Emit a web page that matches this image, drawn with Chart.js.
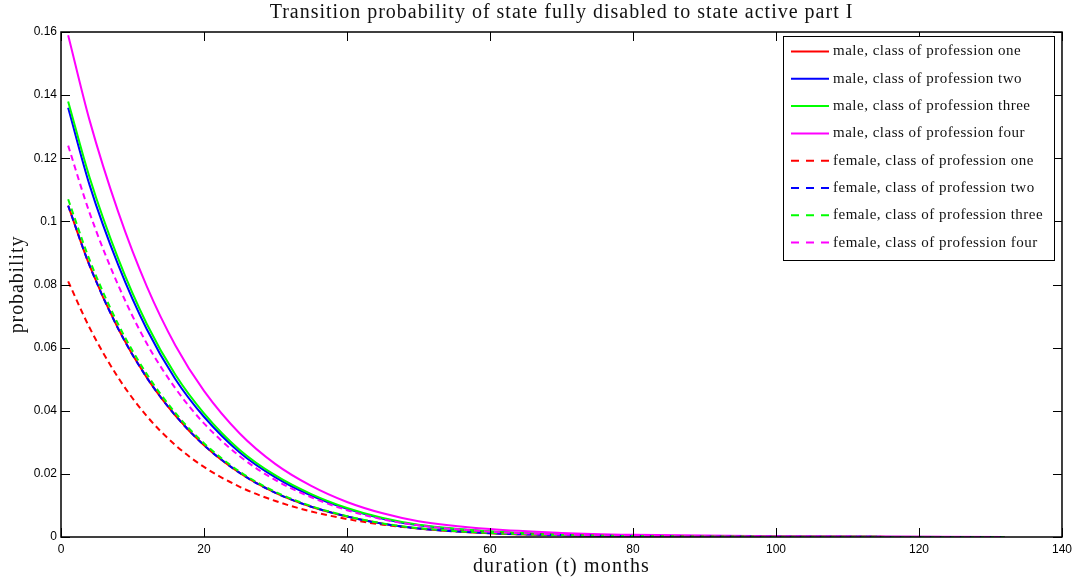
<!DOCTYPE html>
<html>
<head>
<meta charset="utf-8">
<script src="https://cdn.jsdelivr.net/npm/chart.js@4.4.0/dist/chart.umd.min.js"></script>
<style>
  html, body { margin: 0; padding: 0; background: #fff; }
  #wrap { width: 1077px; height: 583px; }
</style>
</head>
<body>
<div id="wrap"><canvas id="chartTransisi"></canvas></div>
<script>
// data (duration in months -> probability)
const durasi = [1, 4, 8, 12, 16, 20, 25, 30, 35, 40, 45, 50, 60, 70, 80, 100, 132];

const maleOne    = [0.105, 0.086, 0.066, 0.0505, 0.0385, 0.0291, 0.0203, 0.014, 0.0096, 0.0065, 0.0042, 0.0027, 0.0012, 0.0006, 0.0003, 0.0001, 0.0];
const maleTwo    = [0.136, 0.1115, 0.0862, 0.0658, 0.050, 0.0381, 0.0268, 0.0189, 0.0131, 0.0089, 0.0058, 0.0037, 0.0017, 0.0008, 0.0004, 0.0001, 0.0];
const maleThree  = [0.138, 0.1139, 0.0882, 0.0675, 0.0514, 0.0392, 0.0276, 0.0195, 0.0136, 0.0092, 0.006, 0.0039, 0.0018, 0.0008, 0.0004, 0.0001, 0.0];
const maleFour   = [0.159, 0.132, 0.103, 0.0794, 0.0607, 0.0463, 0.0328, 0.0231, 0.0162, 0.0111, 0.0075, 0.005, 0.0025, 0.0013, 0.0007, 0.0002, 0.0];
const femaleOne   = [0.081, 0.0663, 0.0505, 0.0383, 0.0291, 0.0222, 0.0159, 0.0114, 0.0081, 0.0057, 0.0039, 0.0027, 0.0013, 0.0006, 0.0003, 0.0001, 0.0];
const femaleTwo   = [0.105, 0.086, 0.066, 0.0505, 0.0385, 0.0291, 0.0203, 0.014, 0.0096, 0.0065, 0.0042, 0.0027, 0.0012, 0.0006, 0.0003, 0.0001, 0.0];
const femaleThree = [0.107, 0.0878, 0.0674, 0.0516, 0.0393, 0.0297, 0.0207, 0.0143, 0.0098, 0.0066, 0.0043, 0.0028, 0.0013, 0.0006, 0.0003, 0.0001, 0.0];
const femaleFour  = [0.124, 0.1027, 0.0798, 0.0613, 0.0471, 0.036, 0.0256, 0.018, 0.0126, 0.0085, 0.0056, 0.0037, 0.0017, 0.0008, 0.0004, 0.0001, 0.0];

const labelSeri = [
  'male, class of profession one', 'male, class of profession two',
  'male, class of profession three', 'male, class of profession four',
  'female, class of profession one', 'female, class of profession two',
  'female, class of profession three', 'female, class of profession four'
];
const nilaiSeri = [maleOne, maleTwo, maleThree, maleFour, femaleOne, femaleTwo, femaleThree, femaleFour];
const warnaSeri = ['#ff0000', '#0000ff', '#00ff00', '#ff00ff', '#ff0000', '#0000ff', '#00ff00', '#ff00ff'];
const putusSeri = [false, false, false, false, true, true, true, true];

const xTicks = [0, 20, 40, 60, 80, 100, 120, 140];
const yTicks = [0, 0.02, 0.04, 0.06, 0.08, 0.1, 0.12, 0.14, 0.16];

const judul = 'Transition probability of state fully disabled to state active part I';
const judulX = 'duration (t) months';
const judulY = 'probability';

const SERIF = '"Liberation Serif", "DejaVu Serif", serif';
const SANS = '"Liberation Sans", Arial, sans-serif';

const datasets = nilaiSeri.map((vals, i) => ({
  label: labelSeri[i],
  data: durasi.map((t, k) => ({ x: t, y: vals[k] })),
  borderColor: warnaSeri[i],
  backgroundColor: warnaSeri[i],
  borderWidth: 2,
  borderDash: putusSeri[i] ? [6, 4] : [],
  pointRadius: 0,
  fill: false,
  cubicInterpolationMode: 'monotone',
  order: nilaiSeri.length - 1 - i   // later series drawn on top, like the original
}));

// frame, inward ticks, title, axis titles and boxed legend
const bingkaiPlugin = {
  id: 'bingkai',
  afterDraw(chart) {
    const ctx = chart.ctx;
    const a = chart.chartArea;
    const sx = chart.scales.x, sy = chart.scales.y;
    ctx.save();

    // ticks on all four sides
    ctx.strokeStyle = '#000';
    ctx.lineWidth = 1;
    ctx.beginPath();
    xTicks.forEach(v => {
      const px = Math.round(sx.getPixelForValue(v)) + 0.5;
      ctx.moveTo(px, a.bottom); ctx.lineTo(px, a.bottom - 9);
      ctx.moveTo(px, a.top); ctx.lineTo(px, a.top + 9);
    });
    yTicks.forEach(v => {
      const py = Math.round(sy.getPixelForValue(v)) + 0.5;
      ctx.moveTo(a.left, py); ctx.lineTo(a.left + 9, py);
      ctx.moveTo(a.right, py); ctx.lineTo(a.right - 9, py);
    });
    ctx.stroke();

    // box
    ctx.lineWidth = 1.5;
    ctx.strokeRect(a.left, a.top, a.right - a.left, a.bottom - a.top);

    // title and axis titles
    ctx.fillStyle = '#111';
    ctx.textAlign = 'center';
    ctx.textBaseline = 'middle';
    ctx.letterSpacing = '1px';
    ctx.font = '20px ' + SERIF;
    ctx.fillText(judul, (a.left + a.right) / 2, 13);
    ctx.letterSpacing = '1.2px';
    ctx.fillText(judulX, (a.left + a.right) / 2, 567);
    ctx.save();
    ctx.translate(18, (a.top + a.bottom) / 2);
    ctx.rotate(-Math.PI / 2);
    ctx.letterSpacing = '0.9px';
    ctx.fillText(judulY, 0, 0);
    ctx.restore();

    // legend box
    const lx = 783, ly = 36, lw = 271, lh = 224, step = 27.3;
    ctx.fillStyle = '#fff';
    ctx.fillRect(lx, ly, lw, lh);
    ctx.lineWidth = 1;
    ctx.strokeStyle = '#000';
    ctx.strokeRect(lx + 0.5, ly + 0.5, lw, lh);
    ctx.font = '15px ' + SERIF;
    ctx.letterSpacing = '0.5px';
    ctx.textAlign = 'left';
    labelSeri.forEach((lab, i) => {
      const cy = ly + 15.5 + i * step;
      ctx.strokeStyle = warnaSeri[i];
      ctx.lineWidth = 2;
      ctx.setLineDash(putusSeri[i] ? [8, 7] : []);
      ctx.beginPath();
      ctx.moveTo(791, cy); ctx.lineTo(829, cy);
      ctx.stroke();
      ctx.setLineDash([]);
      ctx.fillStyle = '#111';
      ctx.fillText(lab, 833, cy);
    });
    ctx.restore();
  }
};

const ctx = document.getElementById('chartTransisi').getContext('2d');
const chartTransisi = new Chart(ctx, {
  type: 'line',
  data: { datasets: datasets },
  options: {
    responsive: true,
    maintainAspectRatio: false,
    animation: false,
    layout: { padding: { top: 32, right: 14, left: 0, bottom: 0 } },
    plugins: {
      legend: { display: false },
      title: { display: false },
      tooltip: { enabled: false }
    },
    scales: {
      x: {
        type: 'linear',
        min: 0, max: 140,
        afterFit: s => { s.height = 46; },
        afterBuildTicks: s => { s.ticks = xTicks.map(v => ({ value: v })); },
        grid: { display: false, drawTicks: false },
        border: { display: false },
        ticks: { color: '#000', font: { family: SANS, size: 12 }, padding: 5, maxRotation: 0 }
      },
      y: {
        type: 'linear',
        min: 0, max: 0.16,
        afterFit: s => { s.width = 61; },
        afterBuildTicks: s => { s.ticks = yTicks.map(v => ({ value: v })); },
        grid: { display: false, drawTicks: false },
        border: { display: false },
        ticks: {
          color: '#000', font: { family: SANS, size: 12 }, padding: 4,
          callback: v => String(+v.toFixed(2))
        }
      }
    }
  },
  plugins: [bingkaiPlugin]
});
</script>
</body>
</html>
